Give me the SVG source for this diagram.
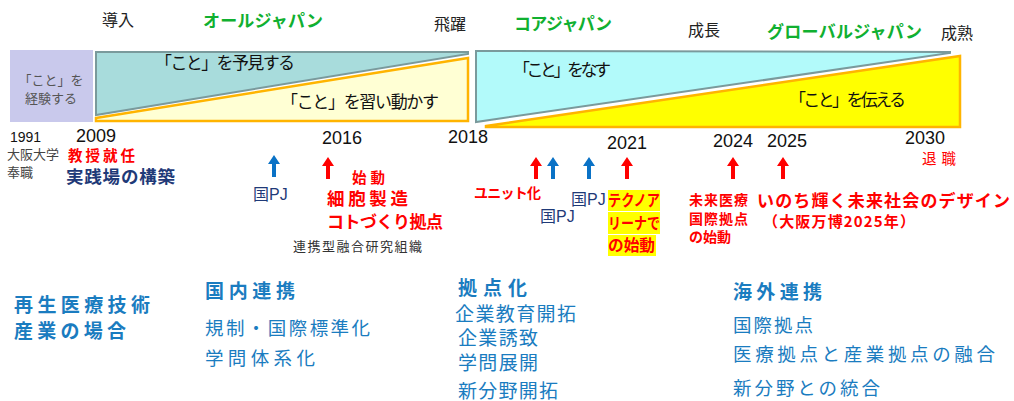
<svg xmlns="http://www.w3.org/2000/svg" width="1014" height="401" viewBox="0 0 1014 401">
<defs>
<style>
text{font-family:"Liberation Sans","Noto Sans CJK JP",sans-serif;}
.jp{font-family:"Noto Sans CJK JP",sans-serif;}
.ph{font-size:16px;fill:#222;}
.gr{font-size:17px;fill:#10b030;font-weight:bold;}
.in{font-size:17px;fill:#111;}
.yr{font-size:18px;fill:#111;}
.red{fill:#ff0000;font-weight:bold;}
.nav{fill:#1f3a78;}
.bl{fill:#1a7cc0;}
</style>
<path id="arr" d="M0,0 L6,9 L2,9 L2,22 L-2,22 L-2,9 L-6,9 Z"/>
</defs>
<rect width="1014" height="401" fill="#fff"/>

<g id="phases">
<text class="ph jp" x="102" y="26">導入</text>
<text class="gr jp" x="203" y="27" textLength="120">オールジャパン</text>
<text class="ph jp" x="434" y="30">飛躍</text>
<text class="gr jp" x="514" y="30" textLength="98">コアジャパン</text>
<text class="ph jp" x="688" y="36">成長</text>
<text class="gr jp" x="767" y="38" textLength="155">グローバルジャパン</text>
<text class="ph jp" x="941" y="39">成熟</text>
</g>

<g id="node-keiken">
<rect x="10" y="50" width="83" height="72" fill="#c9c9ec"/>
<text class="jp" x="51" y="85" font-size="13" fill="#555" text-anchor="middle">「こと」を</text>
<text class="jp" x="51" y="103" font-size="13" fill="#555" text-anchor="middle">経験する</text>
</g>

<g id="node-yoken">
<polygon points="96,52 468,52 468,54 96,115" fill="#a8dcdc" stroke="#7a9a9c" stroke-width="2"/>
<text class="in jp" x="155" y="69" textLength="140">「こと」を予見する</text>
</g>
<g id="node-narai">
<polygon points="96,118 468,58 468,121 96,121" fill="#ffffd4" stroke="#ffb400" stroke-width="2.5"/>
<text class="in jp" x="281" y="108" textLength="158">「こと」を習い動かす</text>
</g>
<g id="node-nasu">
<polygon points="476,51 950,52 950,53 476,122" fill="#b2fafa" stroke="#7a9a9c" stroke-width="2"/>
<text class="in jp" x="513" y="76" textLength="98">「こと」をなす</text>
</g>
<g id="node-tsutaeru">
<polygon points="486,126 960,56 960,127 486,127" fill="#ffff00" stroke="#ffb400" stroke-width="2.5"/>
<text class="in jp" x="789" y="106" textLength="117">「こと」を伝える</text>
</g>

<g id="years">
<text x="10" y="142" font-size="14" fill="#111">1991</text>
<text class="yr" x="76" y="142">2009</text>
<text class="yr" x="322" y="144">2016</text>
<text class="yr" x="448" y="143">2018</text>
<text class="yr" x="607" y="149">2021</text>
<text class="yr" x="713" y="147">2024</text>
<text class="yr" x="767" y="147">2025</text>
<text class="yr" x="905" y="144">2030</text>
</g>

<g id="connectors">
<use href="#arr" x="274" y="155" fill="#0a72c6"/>
<use href="#arr" x="328" y="157" fill="#ff0000"/>
<use href="#arr" x="536" y="157" fill="#ff0000"/>
<use href="#arr" x="553" y="157" fill="#0a72c6"/>
<use href="#arr" x="589" y="157" fill="#0a72c6"/>
<use href="#arr" x="627" y="157" fill="#ff0000"/>
<use href="#arr" x="733" y="157" fill="#ff0000"/>
<use href="#arr" x="783" y="157" fill="#ff0000"/>
</g>

<g id="ev-2009">
<text class="jp" x="7" y="159" font-size="13" fill="#444">大阪大学</text>
<text class="jp" x="7" y="177" font-size="13" fill="#444">奉職</text>
<text class="jp red" x="68" y="161" font-size="14.5" textLength="67">教授就任</text>
<text class="jp nav" x="66" y="183" font-size="17.5" font-weight="bold" textLength="109">実践場の構築</text>
</g>
<g id="ev-pj1">
<text class="nav" x="253" y="200" font-size="16">国PJ</text>
</g>
<g id="ev-2016">
<text class="jp red" x="352" y="183" font-size="14.5" textLength="33">始動</text>
<text class="jp red" x="327" y="205" font-size="17.5" textLength="81">細胞製造</text>
<text class="jp red" x="327" y="228" font-size="17" textLength="116">コトづくり拠点</text>
<text class="jp" x="293" y="251" font-size="13" fill="#333" textLength="129">連携型融合研究組織</text>
</g>
<g id="ev-unit">
<text class="jp red" x="474" y="198" font-size="14" textLength="67">ユニット化</text>
</g>
<g id="ev-pj2">
<text class="nav" x="540" y="222" font-size="16">国PJ</text>
<text class="nav" x="571" y="205" font-size="16">国PJ</text>
</g>
<g id="ev-2021">
<rect x="608" y="190" width="52" height="21" fill="#ffff00"/>
<rect x="608" y="212" width="52" height="22" fill="#ffff00"/>
<rect x="608" y="235" width="48" height="21" fill="#ffff00"/>
<text class="jp red" x="608" y="206" font-size="15.5" textLength="52" lengthAdjust="spacingAndGlyphs">テクノア</text>
<text class="jp red" x="608" y="229" font-size="15.5" textLength="52" lengthAdjust="spacingAndGlyphs">リーナで</text>
<text class="jp red" x="608" y="251" font-size="15.5" textLength="47" lengthAdjust="spacingAndGlyphs">の始動</text>
</g>
<g id="ev-2024">
<text class="jp red" x="689" y="205" font-size="14" textLength="59">未来医療</text>
<text class="jp red" x="689" y="223.5" font-size="14" textLength="59">国際拠点</text>
<text class="jp red" x="689" y="242" font-size="14">の始動</text>
</g>
<g id="ev-2025">
<text class="jp red" x="757" y="207" font-size="17" textLength="253">いのち輝く未来社会のデザイン</text>
<text class="jp red" x="763" y="227" font-size="15" textLength="152">（大阪万博2025年）</text>
</g>
<g id="ev-2030">
<text class="jp" x="922" y="164" font-size="14.5" fill="#ff0000" textLength="34">退職</text>
</g>

<g id="bottom-1">
<text class="jp bl" x="14" y="312" font-size="19" font-weight="bold" textLength="136">再生医療技術</text>
<text class="jp bl" x="14" y="338" font-size="19" font-weight="bold" textLength="112">産業の場合</text>
</g>
<g id="bottom-2">
<text class="jp bl" x="205" y="298" font-size="19" font-weight="bold" textLength="90">国内連携</text>
<text class="jp bl" x="205" y="335" font-size="18.5" textLength="165">規制・国際標準化</text>
<text class="jp bl" x="205" y="365" font-size="18.5" textLength="110">学問体系化</text>
</g>
<g id="bottom-3">
<text class="jp bl" x="458" y="295" font-size="19" font-weight="bold" textLength="69">拠点化</text>
<text class="jp bl" x="455" y="321" font-size="19" textLength="121">企業教育開拓</text>
<text class="jp bl" x="458" y="345" font-size="19" textLength="80">企業誘致</text>
<text class="jp bl" x="458" y="370" font-size="19" textLength="80">学問展開</text>
<text class="jp bl" x="458" y="398" font-size="19" textLength="100">新分野開拓</text>
</g>
<g id="bottom-4">
<text class="jp bl" x="733" y="299" font-size="19" font-weight="bold" textLength="89">海外連携</text>
<text class="jp bl" x="733" y="332" font-size="18.5" textLength="80">国際拠点</text>
<text class="jp bl" x="733" y="361" font-size="18.5" textLength="262">医療拠点と産業拠点の融合</text>
<text class="jp bl" x="733" y="395" font-size="18.5" textLength="147">新分野との統合</text>
</g>
</svg>
